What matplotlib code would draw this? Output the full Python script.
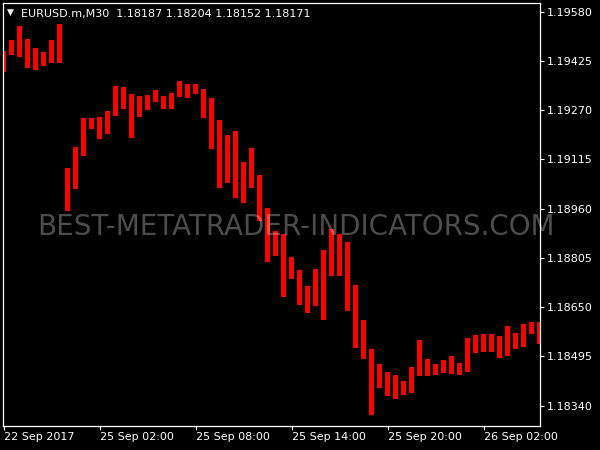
import matplotlib
matplotlib.use('Agg')
import matplotlib.pyplot as plt
from matplotlib.ticker import FixedLocator
import numpy as np

# ---- data (M30 bars, upper and lower end of each drawn bar) ----
bar_top = [1.19456, 1.19491, 1.19535, 1.19494, 1.19466, 1.19453, 1.19491, 1.19541,
           1.19088, 1.19154, 1.19245, 1.19245, 1.19249, 1.19267, 1.19346, 1.19343,
           1.19321, 1.19315, 1.19318, 1.19334, 1.19315, 1.19324, 1.19362, 1.19352,
           1.19352, 1.19337, 1.19308, 1.19239, 1.19192, 1.19205, 1.19107, 1.19151,
           1.19066, 1.18962, 1.18890, 1.18880, 1.18808, 1.18767, 1.18717, 1.18770,
           1.18830, 1.18896, 1.18880, 1.18855, 1.18720, 1.18610, 1.18518, 1.18471,
           1.18446, 1.18437, 1.18418, 1.18462, 1.18547, 1.18487, 1.18471, 1.18484,
           1.18496, 1.18474, 1.18553, 1.18563, 1.18566, 1.18566, 1.18559, 1.18591,
           1.18569, 1.18597, 1.18603, 1.18603]
bar_bottom = [1.19390, 1.19444, 1.19437, 1.19403, 1.19397, 1.19409, 1.19419, 1.19419,
              1.18953, 1.19022, 1.19126, 1.19211, 1.19179, 1.19195, 1.19252, 1.19274,
              1.19183, 1.19249, 1.19271, 1.19296, 1.19274, 1.19274, 1.19312, 1.19308,
              1.19321, 1.19245, 1.19148, 1.19025, 1.19041, 1.18994, 1.18978, 1.19025,
              1.18921, 1.18792, 1.18811, 1.18682, 1.18739, 1.18657, 1.18632, 1.18654,
              1.18610, 1.18748, 1.18748, 1.18638, 1.18522, 1.18487, 1.18311, 1.18396,
              1.18371, 1.18361, 1.18374, 1.18380, 1.18434, 1.18434, 1.18437, 1.18443,
              1.18440, 1.18437, 1.18446, 1.18506, 1.18509, 1.18509, 1.18490, 1.18496,
              1.18518, 1.18525, 1.18566, 1.18534]
time_tick_bars = [0, 12, 24, 36, 48, 60]
time_tick_labels = ["22 Sep 2017", "25 Sep 02:00", "25 Sep 08:00",
                    "25 Sep 14:00", "25 Sep 20:00", "26 Sep 02:00"]
price_ticks = [1.19580, 1.19425, 1.19270, 1.19115, 1.18960,
               1.18805, 1.18650, 1.18495, 1.18340]
symbol = "EURUSD.m,M30"
ohlc = [1.18187, 1.18204, 1.18152, 1.18171]
watermark = "BEST-METATRADER-INDICATORS.COM"

W, H = 600, 450
fig = plt.figure(figsize=(6, 4.5), dpi=100, facecolor='black')
ax = fig.add_axes([2.7 / W, 1 - 425.7 / H, (540 - 2.7) / W, (425.7 - 2.7) / H])
ax.set_facecolor('black')

x = np.arange(len(bar_top))
top = np.array(bar_top)
bot = np.array(bar_bottom)
ax.bar(x, top - bot, bottom=bot, width=0.625, color='#ff0000', linewidth=0)

ax.set_xlim(-0.1, 67.06)
ax.set_ylim(1.182771, 1.196083)

for s in ax.spines.values():
    s.set_color('white')
    s.set_linewidth(0.9)

ax.yaxis.tick_right()
ax.yaxis.set_major_locator(FixedLocator(price_ticks))
ax.set_yticklabels([f"{p:.5f}" for p in price_ticks])
ax.tick_params(axis='y', which='both', direction='out', length=3, width=0.8,
               color='white', labelcolor='white', labelsize=8, pad=2,
               left=False, labelleft=False)

ax.set_xticks(time_tick_bars)
ax.set_xticklabels(time_tick_labels, ha='left')
ax.tick_params(axis='x', direction='out', length=3, width=0.8, color='white',
               labelcolor='white', labelsize=8, pad=1.5)
for lbl in ax.get_xticklabels():
    lbl.set_horizontalalignment('left')

# header
fig.text(10.8 / W, 1 - 12.5 / H, "\u25BC", color='white', fontsize=6.5,
         ha='center', va='center')
header = symbol + "  " + " ".join(f"{v:.5f}" for v in ohlc)
fig.text(21 / W, 1 - 16.7 / H, header, color='white', fontsize=8,
         ha='left', va='baseline')

# watermark
fig.text(295.5 / W, 1 - 235 / H, watermark, color='white', alpha=0.3,
         fontsize=20, fontweight='normal', ha='center', va='baseline', zorder=10)

fig.savefig('out.png', dpi=100, facecolor='black')
